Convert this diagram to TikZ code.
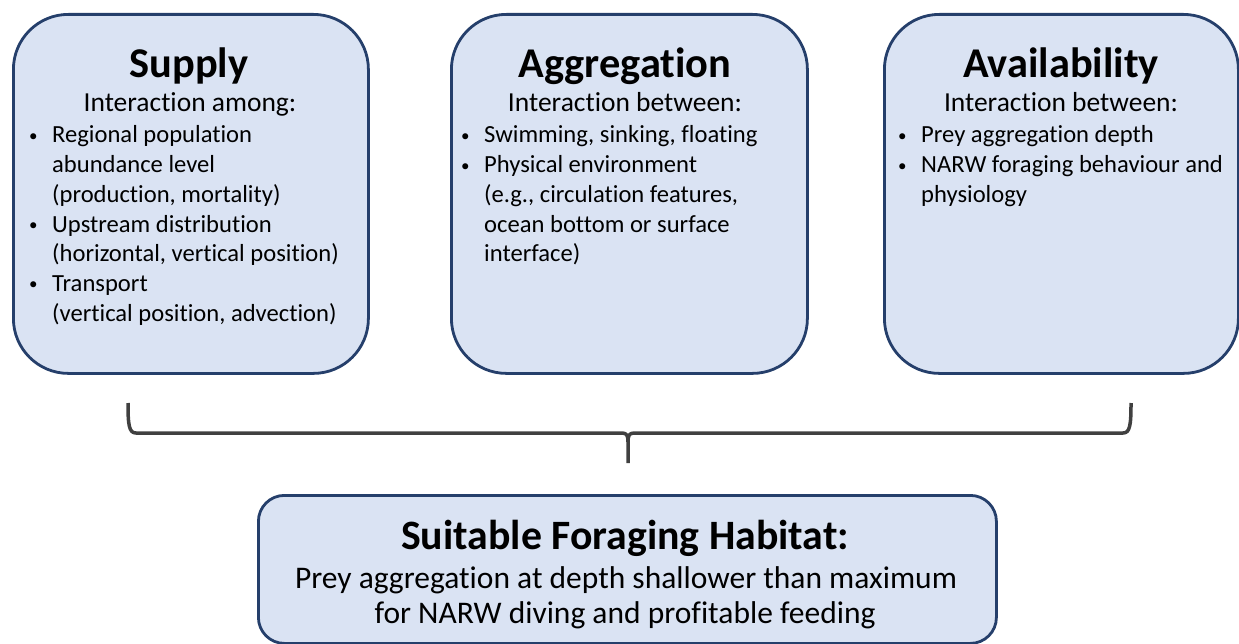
\documentclass[tikz,border=0pt]{standalone}
\usepackage{fontspec}
\setmainfont{Carlito}[Ligatures=NoCommon]
\definecolor{boxfill}{HTML}{DAE3F3}
\definecolor{boxline}{HTML}{253F6B}
\definecolor{bracecol}{HTML}{404040}
\newcommand{\bul}{\makebox[23pt][l]{\raisebox{1.5pt}{\fontsize{17}{17}\selectfont•}}}
\newcommand{\ind}{\hspace*{23pt}}
\begin{document}
\begin{tikzpicture}[x=1pt,y=-1pt,
  panel/.style={draw=boxline, fill=boxfill, line width=2.8pt, rounded corners=55pt, anchor=north west, inner sep=0},
  wide/.style={draw=boxline, fill=boxfill, line width=2.8pt, rounded corners=26pt, anchor=north west, inner sep=0},
  title/.style={anchor=base, inner sep=0, font=\fontsize{42.4}{50}\selectfont\bfseries},
  sub/.style={anchor=base, inner sep=0, font=\fontsize{27.5}{32}\selectfont},
  blist/.style={anchor=base west, inner sep=0, font=\fontsize{24.6}{29.7}\selectfont},
  btitle/.style={anchor=base, inner sep=0, font=\fontsize{41.8}{48}\selectfont\bfseries},
  btext/.style={anchor=base, inner sep=0, font=\fontsize{31.5}{36}\selectfont},
  brace/.style={draw=bracecol, line width=3.5pt, line join=round}
]
\useasboundingbox (0,0) rectangle (1239,644);
% panels
\node[panel, minimum width=355, minimum height=359] (supply) at (12,13) {};
\node[panel, minimum width=356, minimum height=359] (aggr) at (450,13) {};
\node[panel, minimum width=354, minimum height=359] (avail) at (883,13) {};
\node[wide, minimum width=738, minimum height=148] (habitat) at (257,494) {};
% supply
\node[title] (t1) at (189,78) {Supply};
\node[sub] (s1) at (190,112) {Interaction among:};
\node[blist] (l1) at (29,143) {\begin{tabular}[t]{@{}l@{}}
\bul Regional population\\
\ind abundance level\\
\ind (production, mortality)\\
\bul Upstream distribution\\
\ind (horizontal, vertical position)\\
\bul Transport\\
\ind (vertical position, advection)
\end{tabular}};
% aggregation
\node[title] (t2) at (625,78) {Aggregation};
\node[sub] (s2) at (625,112) {Interaction between:};
\node[blist] (l2) at (461,143) {\begin{tabular}[t]{@{}l@{}}
\bul Swimming, sinking, floating\\
\bul Physical environment\\
\ind (e.g., circulation features,\\
\ind ocean bottom or surface\\
\ind interface)
\end{tabular}};
% availability
\node[title] (t3) at (1061,78) {Availability};
\node[sub] (s3) at (1061,112) {Interaction between:};
\node[blist] (l3) at (898,143) {\begin{tabular}[t]{@{}l@{}}
\bul Prey aggregation depth\\
\bul NARW foraging behaviour and\\
\ind physiology
\end{tabular}};
% bottom
\node[btitle] (t4) at (625,549) {Suitable Foraging Habitat:};
\node[btext] (b1) at (626,588) {Prey aggregation at depth shallower than maximum};
\node[btext] (b2) at (625,623) {for NARW diving and profitable feeding};
% brace
\coordinate (bl) at (128,403);
\coordinate (br) at (1131,403);
\coordinate (bm) at (628,463);
\draw[brace] (bl) .. controls (128,425) and (129,433) .. (136,433)
  -- (622,433) .. controls (627,433) and (628,436) .. (628,442) -- (bm);
\draw[brace] (br) .. controls (1131,425) and (1130,433) .. (1123,433)
  -- (634,433) .. controls (629,433) and (628,436) .. (628,442);
\end{tikzpicture}
\end{document}
